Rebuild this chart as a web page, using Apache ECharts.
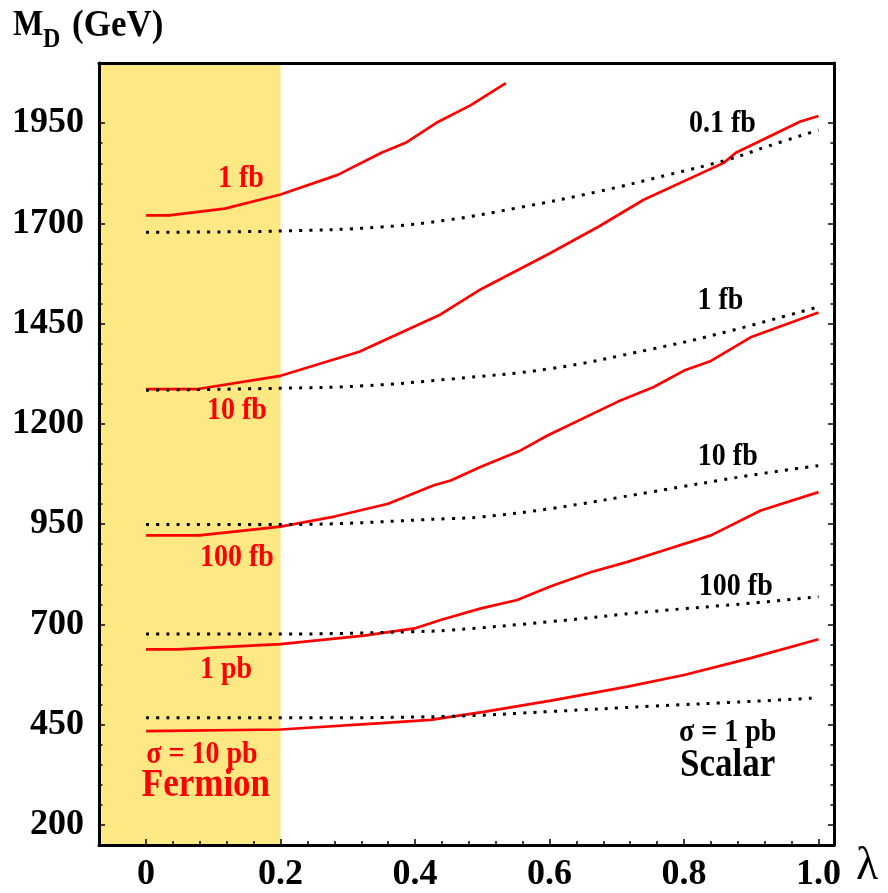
<!DOCTYPE html>
<html><head><meta charset="utf-8">
<script src="https://cdn.jsdelivr.net/npm/echarts@6/dist/echarts.min.js"></script>
<style>html,body{margin:0;padding:0;background:#fff}#c{width:888px;height:893px}</style>
</head><body><div id="c"></div>
<script>
// ---- axes ----
const xMin = -0.07, xMax = 1.023;
const yMin = 150, yMax = 2100;
const xTicks = [0, 0.2, 0.4, 0.6, 0.8, 1.0];
const xTickLabels = ['0', '0.2', '0.4', '0.6', '0.8', '1.0'];
const yTicks = [200, 450, 700, 950, 1200, 1450, 1700, 1950];
const yTickLabels = ['200', '450', '700', '950', '1200', '1450', '1700', '1950'];
const fermionBandEnd = 0.2;

// ---- Fermion (red, solid) ----
const fermion_1fb = [[0,1720],[0.034,1720],[0.117,1737],[0.2,1772],[0.285,1821],[0.35,1876],[0.386,1901],[0.434,1953],[0.483,1995],[0.535,2050]];
const fermion_10fb = [[0,1287],[0.077,1287],[0.2,1320],[0.317,1380],[0.438,1473],[0.498,1536],[0.6,1625],[0.674,1693],[0.74,1759],[0.859,1851],[0.877,1876],[0.973,1954],[1.0,1968]];
const fermion_100fb = [[0,922],[0.079,922],[0.2,944],[0.28,969],[0.36,1001],[0.428,1047],[0.453,1059],[0.498,1093],[0.557,1134],[0.597,1171],[0.701,1255],[0.755,1292],[0.8,1333],[0.84,1357],[0.899,1416],[1.0,1478]];
const fermion_1pb = [[0,638],[0.047,638],[0.2,651],[0.324,672],[0.399,690],[0.438,711],[0.498,740],[0.552,761],[0.602,795],[0.661,830],[0.716,856],[0.761,880],[0.84,922],[0.914,984],[1.0,1030]];
const fermion_10pb = [[0,434],[0.2,438],[0.35,454],[0.423,462],[0.502,482],[0.602,510],[0.716,545],[0.8,574],[0.899,616],[1.0,663]];

// ---- Scalar (black, dotted) ----
const scalar_01fb = [[0,1678],[0.2,1681],[0.35,1691],[0.45,1709],[0.55,1738],[0.674,1780],[0.776,1821],[0.865,1859],[0.924,1892],[1.0,1933]];
const scalar_1fb = [[0,1284],[0.2,1289],[0.324,1295],[0.453,1312],[0.602,1338],[0.75,1386],[0.85,1424],[1.0,1492]];
const scalar_10fb = [[0,949],[0.2,949],[0.453,964],[0.498,968],[0.602,989],[0.75,1030],[0.899,1072],[1.0,1096]];
const scalar_100fb = [[0,676],[0.2,676],[0.397,682],[0.453,686],[0.602,707],[0.75,732],[0.899,753],[1.0,769]];
const scalar_1pb = [[0,467],[0.2,467],[0.453,471],[0.602,483],[0.75,496],[0.899,508],[1.0,517]];

// ---- curve annotations (text, anchor in data coords) ----
const annoText = ['1 fb','10 fb','100 fb','1 pb','σ = 10 pb','Fermion','0.1 fb','1 fb','10 fb','100 fb','σ = 1 pb','Scalar'];
const annoX = [0.141,0.135,0.135,0.119,0.083,0.089,0.857,0.854,0.865,0.877,0.865,0.865];
const annoY = [1811,1232,865,586,375,298,1948,1506,1118,793,429,347];
const annoRed = [true,true,true,true,true,true,false,false,false,false,false,false];
const annoBig = [false,false,false,false,false,true,false,false,false,false,false,true];

// minor ticks: subdivide major spacing by 5
function subdivide(major, lo, hi, n) {
  const step = (major[1] - major[0]) / n, out = [];
  for (let v = major[0]; v <= major[major.length-1] + 1e-9; v += step) out.push(Math.round(v * 1000) / 1000);
  return out.filter(v => v >= lo && v <= hi);
}
const xMinor = subdivide(xTicks, xMin, xMax, 5);
const yMinor = subdivide(yTicks, yMin, yMax, 5);

const SERIF = '"Liberation Serif", "DejaVu Serif", serif';
const chart = echarts.init(document.getElementById('c'));

function redLine(d) {
  return { type: 'line', data: d, showSymbol: false, z: 3, silent: true,
    lineStyle: { color: '#ff0000', width: 2.7 } };
}
function dotLine(d) {
  return { type: 'line', data: d, showSymbol: false, z: 3, silent: true, smooth: 0.4,
    lineStyle: { color: '#000', width: 3, type: [3, 7.2], cap: 'butt' } };
}
const axisLineStyle = { show: true, onZero: false, lineStyle: { color: '#000', width: 3 } };
const noLine = { show: false, onZero: false };
const lblStyle = { fontFamily: SERIF, fontWeight: 'bold', fontSize: 36, color: '#000' };

const option = {
  animation: false,
  backgroundColor: '#fff',
  grid: { left: 99, right: 54, top: 63, bottom: 46 },
  xAxis: [
    { type: 'value', position: 'bottom', min: xMin, max: xMax, z: 10,
      axisLine: axisLineStyle, splitLine: { show: false },
      axisTick: { show: true, inside: true, length: 4, customValues: xMinor, lineStyle: { color: '#000', width: 1.5 } },
      axisLabel: { show: true, customValues: xTicks, margin: 12, ...lblStyle,
        formatter: v => { const i = xTicks.findIndex(t => Math.abs(t - v) < 1e-6); return i >= 0 ? xTickLabels[i] : ''; } } },
    { type: 'value', position: 'bottom', min: xMin, max: xMax, z: 10,
      axisLine: noLine, splitLine: { show: false }, axisLabel: { show: false },
      axisTick: { show: true, inside: true, length: 6, customValues: xTicks, lineStyle: { color: '#000', width: 1.5 } } },
    { type: 'value', position: 'top', min: xMin, max: xMax, z: 10,
      axisLine: axisLineStyle, splitLine: { show: false }, axisLabel: { show: false }, axisTick: { show: false } }
  ],
  yAxis: [
    { type: 'value', position: 'left', min: yMin, max: yMax, z: 10,
      axisLine: axisLineStyle, splitLine: { show: false },
      axisTick: { show: true, inside: true, length: 3.5, customValues: yMinor, lineStyle: { color: '#000', width: 1.5 } },
      axisLabel: { show: true, customValues: yTicks, margin: 15, ...lblStyle,
        formatter: v => { const i = yTicks.indexOf(Math.round(v)); return i >= 0 ? yTickLabels[i] : ''; } } },
    { type: 'value', position: 'left', min: yMin, max: yMax, z: 10,
      axisLine: noLine, splitLine: { show: false }, axisLabel: { show: false },
      axisTick: { show: true, inside: true, length: 6, customValues: yTicks, lineStyle: { color: '#000', width: 1.5 } } },
    { type: 'value', position: 'right', min: yMin, max: yMax, z: 10,
      axisLine: axisLineStyle, splitLine: { show: false }, axisLabel: { show: false },
      axisTick: { show: true, inside: true, length: 3.5, customValues: yMinor, lineStyle: { color: '#000', width: 1.5 } } },
    { type: 'value', position: 'right', min: yMin, max: yMax, z: 10,
      axisLine: noLine, splitLine: { show: false }, axisLabel: { show: false },
      axisTick: { show: true, inside: true, length: 6, customValues: yTicks, lineStyle: { color: '#000', width: 1.5 } } }
  ],
  series: [
    { type: 'line', data: [], z: 1, silent: true,
      markArea: { silent: true, itemStyle: { color: '#fde883', opacity: 1 },
        data: [[{ xAxis: xMin }, { xAxis: fermionBandEnd }]] } },
    redLine(fermion_1fb), redLine(fermion_10fb), redLine(fermion_100fb), redLine(fermion_1pb), redLine(fermion_10pb),
    dotLine(scalar_01fb), dotLine(scalar_1fb), dotLine(scalar_10fb), dotLine(scalar_100fb), dotLine(scalar_1pb)
  ]
};
chart.setOption(option);

const graphics = [];
annoText.forEach((t, i) => {
  const p = chart.convertToPixel({ xAxisIndex: 0, yAxisIndex: 0 }, [annoX[i], annoY[i]]);
  graphics.push({ type: 'text', x: p[0], y: p[1], scaleY: 1.12, z: 20, silent: true,
    style: { text: t, fill: annoRed[i] ? '#ff0000' : '#000', align: 'center', verticalAlign: 'middle',
      font: 'bold ' + (annoBig[i] ? 35 : 28) + 'px ' + SERIF } });
});
// axis titles
const pEnd = chart.convertToPixel({ xAxisIndex: 0, yAxisIndex: 0 }, [xMax, yMin]);
graphics.push({ type: 'text', x: pEnd[0] + 22, y: pEnd[1] + 22, z: 20, silent: true,
  style: { text: 'λ', fill: '#000', align: 'left', verticalAlign: 'middle', font: '46px ' + SERIF } });
graphics.push({ type: 'text', x: 13, y: 26, scaleY: 1.1, z: 20, silent: true,
  style: { text: 'M', fill: '#000', align: 'left', verticalAlign: 'middle', font: 'bold 32px ' + SERIF } });
graphics.push({ type: 'text', x: 43, y: 40, scaleY: 1.1, z: 20, silent: true,
  style: { text: 'D', fill: '#000', align: 'left', verticalAlign: 'middle', font: 'bold 24px ' + SERIF } });
graphics.push({ type: 'text', x: 72, y: 26, scaleY: 1.1, z: 20, silent: true,
  style: { text: '(GeV)', fill: '#000', align: 'left', verticalAlign: 'middle', font: 'bold 35px ' + SERIF } });
chart.setOption({ graphic: graphics });
</script></body></html>
